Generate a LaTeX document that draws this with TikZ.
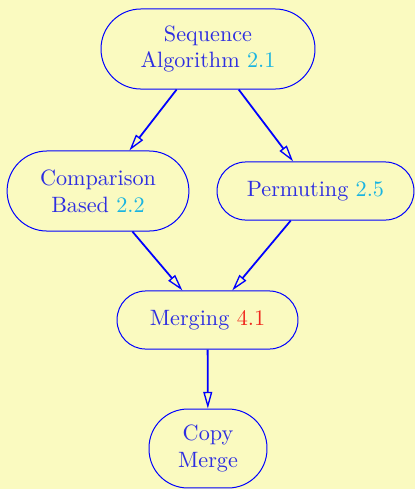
\documentclass[tikz,border=0pt]{standalone}
\usetikzlibrary{arrows.meta}
\definecolor{bgyellow}{RGB}{250,250,192}
\definecolor{txtblue}{RGB}{45,45,225}
\definecolor{refcyan}{RGB}{25,180,225}
\definecolor{refred}{RGB}{240,40,30}
\newcommand{\secref}[1]{\textcolor{refcyan}{#1}}
\newcommand{\secredref}[1]{\textcolor{refred}{#1}}
\begin{document}
\begin{tikzpicture}[x=0.451pt,y=-0.451pt,
  topic/.style={draw=blue, line width=0.45pt, text=txtblue, align=center,
    inner sep=0pt, rounded corners=#1},
  topic/.default=18pt,
  link/.style={draw=blue, line width=0.8pt,
    -{Triangle[open, length=7.5pt, width=4pt, line width=0.6pt]}}]
  \fill[bgyellow] (0,0) rectangle (415,489);
  \useasboundingbox (0,0) rectangle (415,489);

  \node[topic, minimum width=96.5pt, minimum height=36.1pt] (seq) at (208,49)
    {Sequence\\Algorithm \secref{2.1}};
  \node[topic, minimum width=82pt, minimum height=36.1pt] (cmp) at (98,191)
    {Comparison\\Based \secref{2.2}};
  \node[topic=13pt, minimum width=88.8pt, minimum height=26.2pt] (perm) at (315.5,191)
    {Permuting \secref{2.5}};
  \node[topic=13pt, minimum width=81.6pt, minimum height=26.2pt] (merge) at (207.5,320)
    {Merging \secredref{4.1}};
  \node[topic=17.5pt, minimum width=53.2pt, minimum height=35.6pt] (copy) at (208,448.5)
    {Copy\\Merge};

  \draw[link] (seq) -- (cmp);
  \draw[link] (seq) -- (perm);
  \draw[link] (cmp) -- (merge);
  \draw[link] (perm) -- (merge);
  \draw[link] (merge) -- (copy);
\end{tikzpicture}
\end{document}
